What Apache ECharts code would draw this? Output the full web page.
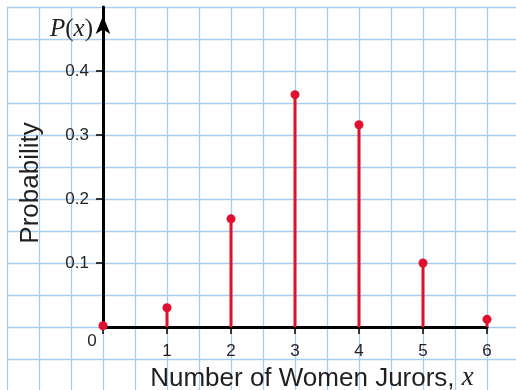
<!DOCTYPE html>
<html>
<head>
<meta charset="utf-8">
<script src="https://cdn.jsdelivr.net/npm/echarts@6/dist/echarts.min.js"></script>
<style>
  html, body { margin: 0; padding: 0; background: #fff; }
  #chart { width: 516px; height: 390px; }
</style>
</head>
<body>
<div id="chart"></div>
<script>
// number of women jurors and their probabilities
const jurors = [0, 1, 2, 3, 4, 5, 6];
const probs = [0.002, 0.03, 0.169, 0.363, 0.316, 0.1, 0.012];
const yTicks = ['0.1', '0.2', '0.3', '0.4'];

const RED = '#e2102f';
const INK = '#231f20';
const PAPER = '#a9cdec';
const FONT = '"Liberation Sans", Arial, sans-serif';

const chart = echarts.init(document.getElementById('chart'));

const points = jurors.map((x, i) => [x, probs[i]]);

const option = {
  animation: false,
  title: {
    left: 45,
    top: 12,
    text: '{i|P}{n|(}{i|x}{n|)}',
    textStyle: {
      fontWeight: 'normal',
      rich: {
        i: { fontFamily: '"Liberation Serif", serif', fontStyle: 'italic', fontWeight: 'normal', fontSize: 25, color: INK },
        n: { fontFamily: '"Liberation Serif", serif', fontWeight: 'normal', fontSize: 25, color: INK },
      },
    },
  },
  grid: [
    // graph paper
    { left: 7, top: 7, width: 512, height: 384, containLabel: false, outerBoundsMode: 'none' },
    // plot area
    { left: 103, top: 7, width: 384, height: 320, containLabel: false, outerBoundsMode: 'none' },
  ],
  xAxis: [
    {
      gridIndex: 0, type: 'value', min: 0, max: 16, interval: 1,
      axisLine: { show: false }, axisTick: { show: false }, axisLabel: { show: false },
      splitLine: { show: true, lineStyle: { color: PAPER, width: 1.3 } },
    },
    {
      gridIndex: 1, type: 'value', min: 0, max: 6, interval: 1,
      axisLine: { show: true, onZero: false, lineStyle: { color: '#000', width: 3 } },
      axisTick: { show: true, length: 7, lineStyle: { color: '#000', width: 1.5 } },
      axisLabel: {
        margin: 16, fontSize: 17, color: INK, fontFamily: FONT,
        formatter: (v) => (v === 0 ? '' : String(v)),
      },
      splitLine: { show: false },
      name: '{a|Number of Women Jurors, }{b|x}',
      nameLocation: 'middle',
      nameGap: 37,
      nameTextStyle: {
        padding: [0, 0, 0, 34],
        rich: {
          a: { fontFamily: FONT, fontSize: 26, color: INK },
          b: { fontFamily: '"Liberation Serif", serif', fontStyle: 'italic', fontSize: 27, color: INK },
        },
      },
    },
  ],
  yAxis: [
    {
      gridIndex: 0, type: 'value', min: 0, max: 12, interval: 1,
      axisLine: { show: false }, axisTick: { show: false }, axisLabel: { show: false },
      splitLine: { show: true, lineStyle: { color: PAPER, width: 1.3 } },
    },
    {
      gridIndex: 1, type: 'value', min: 0, max: 0.5, interval: 0.1,
      axisLine: {
        show: true, onZero: false,
        lineStyle: { color: '#000', width: 3 },
        symbol: ['none', 'arrow'],
        symbolSize: [11, 18],
        symbolOffset: [0, -9],
      },
      axisTick: { show: true, length: 7, lineStyle: { color: '#000', width: 1.5 },
        customValues: [0.1, 0.2, 0.3, 0.4] },
      axisLabel: {
        margin: 14, fontSize: 17, color: INK, fontFamily: FONT,
        customValues: [0.1, 0.2, 0.3, 0.4],
        formatter: (v) => yTicks[Math.round(v * 10) - 1] || '',
      },
      splitLine: { show: false },
      name: 'Probability',
      nameLocation: 'middle',
      nameGap: 59,
      nameTextStyle: { fontFamily: FONT, fontSize: 26, color: INK, padding: [0, 32, 0, 0] },
    },
  ],
  series: [
    {
      type: 'bar',
      xAxisIndex: 1, yAxisIndex: 1,
      barWidth: 3,
      data: points,
      itemStyle: { color: RED },
      z: 3,
    },
    {
      type: 'scatter',
      xAxisIndex: 1, yAxisIndex: 1,
      symbol: 'circle',
      symbolSize: 9,
      data: points,
      itemStyle: { color: RED, opacity: 1 },
      z: 4,
    },
  ],
};

chart.setOption(option);

// the lone "0" sits below-left of the origin
const origin = chart.convertToPixel({ xAxisIndex: 1, yAxisIndex: 1 }, [0, 0]);
chart.setOption({
  graphic: [{
    type: 'text',
    x: origin[0] - 11,
    y: origin[1] + 14,
    style: { text: '0', fontSize: 17, fontFamily: FONT, fill: INK, align: 'center', verticalAlign: 'middle' },
  }],
});

window.addEventListener('resize', () => chart.resize());
</script>
</body>
</html>
